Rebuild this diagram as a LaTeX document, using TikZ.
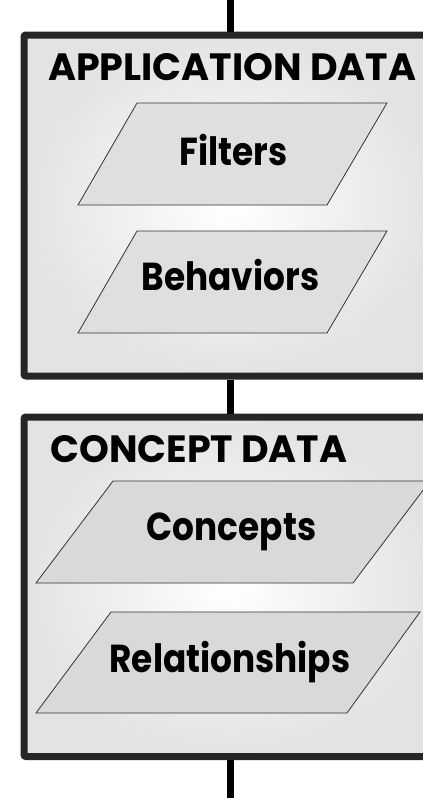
\documentclass[tikz,border=0pt]{standalone}
\usepackage{fontspec}
\usepackage{tikz}
\newfontfamily\boxfont{Poppins}
\newfontfamily\itemfont{Poppins}[FakeStretch=0.88]
\tikzset{
  databox/.style={draw=black!85, line width=7pt, rounded corners=2pt, inner color=white, outer color=gray!22, minimum width=412pt},
  dataslant/.style={draw=black!80, line width=0.8pt, fill=gray!25},
  boxtitle/.style={font=\boxfont\bfseries\fontsize{38}{38}\selectfont, anchor=base west, inner sep=0pt},
  itemtext/.style={font=\itemfont\bfseries\fontsize{39}{39}\selectfont, anchor=base, inner sep=0pt},
  link/.style={line width=7pt}
}

\begin{document}
\begin{tikzpicture}[x=1pt, y=-1pt]
\useasboundingbox (0,0) rectangle (423,798);
\clip (0,0) rectangle (423,798);
\node[databox, minimum height=341pt] (appbox) at (230,205.5) {};
\node[databox, minimum height=339.5pt] (conceptbox) at (230,586.75) {};
\coordinate (top) at (230,0);
\coordinate (bottom) at (230,798);
\draw[link] (top) -- (appbox.north);
\draw[link] (appbox.south) -- (conceptbox.north);
\draw[link] (conceptbox.south) -- (bottom);
\node[boxtitle] (apptitle) at (48,80) {APPLICATION DATA};
\node[boxtitle] (concepttitle) at (50,462) {CONCEPT DATA};
\draw[dataslant] (78,205) -- (137,103) -- (387,103) -- (327,205) -- cycle;
\draw[dataslant] (78,333) -- (137,231) -- (387,231) -- (327,333) -- cycle;
\draw[dataslant, fill=gray!30] (36,583) -- (113,481) -- (430,481) -- (353,583) -- cycle;
\draw[dataslant, fill=gray!30] (36,713) -- (111,612) -- (420,612) -- (347,713) -- cycle;
\node[itemtext] (filters) at (233.5,165) {Filters};
\node[itemtext] (behaviors) at (230.5,290) {Behaviors};
\node[itemtext] (concepts) at (231.5,540) {Concepts};
\node[itemtext] (relationships) at (230,672) {Relationships};
\end{tikzpicture}
\end{document}
